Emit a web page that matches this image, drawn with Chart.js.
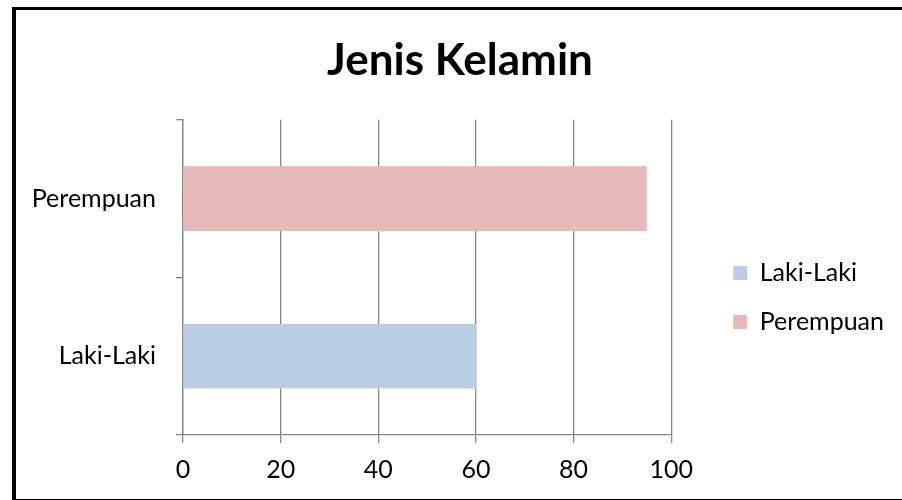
<!DOCTYPE html>
<html>
<head>
<meta charset="utf-8">
<script src="https://cdn.jsdelivr.net/npm/chart.js@4"></script>
<style>
    html, body { margin: 0; padding: 0; background: #fff; overflow: hidden; }
    #frame {
        position: absolute;
        left: 12px;
        top: 7px;
        width: 900px;
        height: 496px;
        box-sizing: border-box;
        border: 4px solid #000;
        border-top-width: 3px;
        background: #fff;
    }
    #holder { position: relative; width: 100%; height: 100%; }
</style>
</head>
<body>
<div id="frame"><div id="holder"><canvas id="chartJK"></canvas></div></div>
<script>
// data
const categories = ['Laki-Laki', 'Perempuan'];
const seriesNames = ['Laki-Laki', 'Perempuan'];
const lakiValues = [60, null];
const perempuanValues = [null, 95];
const xTicks = [0, 20, 40, 60, 80, 100];

const gridGray = '#868686';
const fontFamily = 'Lato';

// excel look: wider gap before the legend, title centred on the whole box
const layoutTweaks = {
    id: 'layoutTweaks',
    afterLayout(chart) {
        const lg = chart.legend;
        if (lg) {
            lg.left += 38;
            lg.right += 38;
        }
        const tb = chart.titleBlock;
        if (tb) {
            tb.left = 0;
            tb.right = chart.width - 4;
        }
    }
};

function drawChart() {
    Chart.defaults.font.family = fontFamily;
    Chart.defaults.color = '#000';

    new Chart(document.getElementById('chartJK'), {
        type: 'bar',
        data: {
            labels: categories,
            datasets: [
                {
                    label: seriesNames[0],
                    data: lakiValues,
                    backgroundColor: '#B9CDE5',
                    categoryPercentage: 1,
                    barPercentage: 0.41
                },
                {
                    label: seriesNames[1],
                    data: perempuanValues,
                    backgroundColor: '#E6B9B8',
                    categoryPercentage: 1,
                    barPercentage: 0.41
                }
            ]
        },
        options: {
            indexAxis: 'y',
            responsive: true,
            maintainAspectRatio: false,
            animation: false,
            events: [],
            layout: {
                padding: { top: 0, left: 17, right: 52, bottom: 2 }
            },
            plugins: {
                title: {
                    display: true,
                    text: 'Jenis Kelamin',
                    color: '#000',
                    font: { size: 44, weight: 'bold' },
                    padding: { top: 24, bottom: 33 }
                },
                legend: {
                    position: 'right',
                    // empty title only pushes the items down a bit
                    title: { display: true, text: '', font: { size: 10 }, padding: { top: 38, bottom: 38 } },
                    labels: {
                        boxWidth: 14,
                        boxHeight: 14,
                        padding: 24,
                        color: '#000',
                        font: { size: 25 }
                    }
                },
                tooltip: { enabled: false }
            },
            scales: {
                x: {
                    stacked: true,
                    min: 0,
                    max: 100,
                    afterBuildTicks: (axis) => {
                        axis.ticks = xTicks.map(v => ({ value: v }));
                    },
                    grid: {
                        color: gridGray,
                        lineWidth: 1.3,
                        tickLength: 8
                    },
                    border: { display: true, color: gridGray, width: 1.3 },
                    ticks: {
                        color: '#000',
                        font: { size: 25 },
                        padding: 12,
                        maxRotation: 0
                    }
                },
                y: {
                    stacked: true,
                    reverse: true,
                    afterFit: (scale) => { scale.width = 150; },
                    grid: {
                        drawOnChartArea: false,
                        color: gridGray,
                        lineWidth: 1.3,
                        tickLength: 7
                    },
                    border: { display: true, color: gridGray, width: 1.3 },
                    ticks: {
                        color: '#000',
                        font: { size: 25 },
                        padding: 20
                    }
                }
            }
        },
        plugins: [layoutTweaks]
    });
}

// make sure text is measured with the real font
Promise.all([
    document.fonts.load('25px Lato'),
    document.fonts.load('bold 44px Lato')
]).then(drawChart, drawChart);
</script>
</body>
</html>
